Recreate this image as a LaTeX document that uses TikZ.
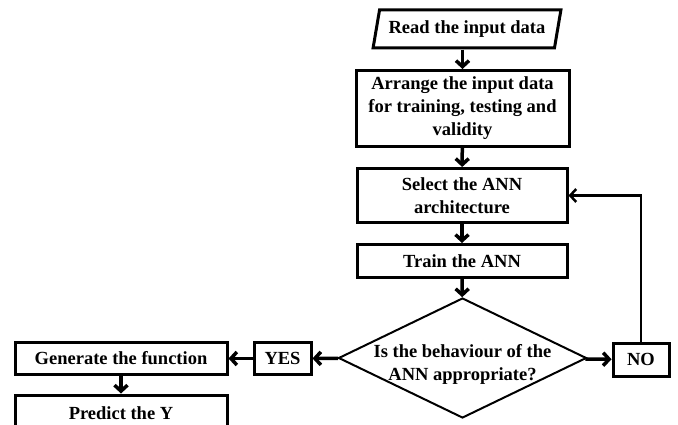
\documentclass[tikz,border=0pt]{standalone}
\usepackage{fontspec}
\setmainfont{Liberation Serif}
\usetikzlibrary{shapes.geometric,arrows.meta}
\begin{document}
\begin{tikzpicture}[x=1pt,y=-1pt,
  txt/.style={font=\bfseries\fontsize{18.5}{23}\selectfont, align=center},
  box/.style={txt, draw, line width=3pt, inner sep=0pt},
  arr/.style={line width=3.5pt, -{Straight Barb[length=6pt,width=13pt]}},
  backarr/.style={line width=2.5pt, -{Straight Barb[length=6pt,width=13pt]}}]
\useasboundingbox (0,0) rectangle (678,425);
\clip (0,0) rectangle (678,425);
\node[box, trapezium, trapezium left angle=71, trapezium right angle=109,
      trapezium stretches=true, minimum width=188pt, minimum height=38pt] (read) at (467,29) {Read the input data};
\node[box, minimum width=213pt, minimum height=76pt] (arrange) at (462.5,108.5) {Arrange the input data\\for training, testing and\\validity};
\node[box, minimum width=210pt, minimum height=54pt] (select) at (462,195.5) {Select the ANN\\architecture};
\node[box, minimum width=210pt, minimum height=33pt] (train) at (462,261) {Train the ANN};
\node[draw, diamond, line width=2pt, inner sep=0pt, minimum width=248pt, minimum height=120pt] (dec) at (462.5,358) {};
\node[txt] (dectext) at (462.5,364) {Is the behaviour of the\\ANN appropriate?};
\node[box, minimum width=56pt, minimum height=33pt] (no) at (641,359.5) {NO};
\node[box, minimum width=57pt, minimum height=32pt] (yes) at (282.5,358.5) {YES};
\node[box, minimum width=212pt, minimum height=32pt] (gen) at (121,358.5) {Generate the function};
\node[box, minimum width=212pt, minimum height=36pt] (pred) at (121,413) {Predict the Y};
\draw[arr] (read.south -| arrange.north) -- (arrange.north);
\draw[arr] (arrange) -- (select);
\draw[arr] (select) -- (train);
\draw[arr] (train) -- (dec);
\draw[arr] (dec) -- (no);
\draw[arr] (dec) -- (yes);
\draw[arr] (yes) -- (gen);
\draw[arr] (gen) -- (pred);
\draw[backarr] (no.north) |- (select.east);
\end{tikzpicture}
\end{document}
